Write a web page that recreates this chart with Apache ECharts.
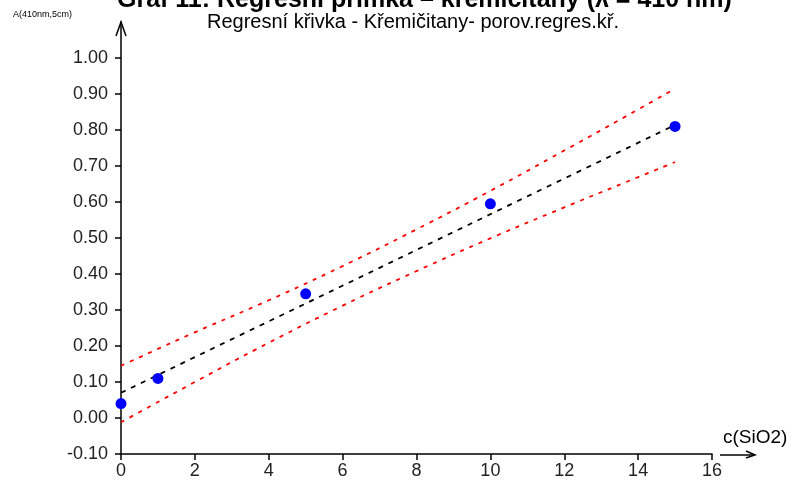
<!DOCTYPE html>
<html>
<head>
<meta charset="UTF-8">
<title>Graf 11</title>
<script src="https://cdn.jsdelivr.net/npm/echarts@6/dist/echarts.min.js"></script>
<style>
  html, body { margin: 0; padding: 0; background: #fff; }
  #chart { width: 795px; height: 486px; }
</style>
</head>
<body>
<div id="chart"></div>
<script>
// measured points
var measX = [0, 1, 5, 10, 15];
var measY = [0.04, 0.11, 0.345, 0.595, 0.81];
// regression line (end points)
var fitX = [0, 15];
var fitY = [0.07, 0.814];
// confidence band, read at these x values
var bandX = [0, 2, 4, 6, 8, 10, 12, 14, 15];
var bandUpper = [0.145, 0.238, 0.327, 0.422, 0.524, 0.631, 0.743, 0.857, 0.915];
var bandLower = [-0.012, 0.100, 0.209, 0.312, 0.408, 0.499, 0.585, 0.669, 0.711];
// axis ticks
var yTicks = [-0.1, 0, 0.1, 0.2, 0.3, 0.4, 0.5, 0.6, 0.7, 0.8, 0.9, 1.0];
var xTicks = [0, 2, 4, 6, 8, 10, 12, 14, 16];

function zip(xs, ys) {
  var out = [];
  for (var i = 0; i < xs.length; i++) out.push([xs[i], ys[i]]);
  return out;
}

var font = 'Liberation Sans, Arial, sans-serif';
var chart = echarts.init(document.getElementById('chart'));

var option = {
  animation: false,
  backgroundColor: '#fff',
  title: [{
    text: 'Graf 11: Regresní přímka – křemičitany (λ = 410 nm)',
    left: 117, top: -12, padding: 0,
    textStyle: { fontFamily: font, fontSize: 25, fontWeight: 'bold', color: '#000' }
  }, {
    text: 'Regresní křivka - Křemičitany- porov.regres.kř.',
    left: 207, top: 12, padding: 0,
    textStyle: { fontFamily: font, fontSize: 20, fontWeight: 'normal', color: '#000' }
  }, {
    text: 'A(410nm,5cm)',
    left: 13, top: 10, padding: 0,
    textStyle: { fontFamily: font, fontSize: 9, fontWeight: 'normal', color: '#000' }
  }, {
    text: 'c(SiO2)',
    left: 723, top: 428, padding: 0,
    textStyle: { fontFamily: font, fontSize: 19, fontWeight: 'normal', color: '#000' }
  }],
  grid: { left: 121, right: 83, top: 22, bottom: 32 },
  xAxis: {
    type: 'value', min: 0, max: 16, interval: 2,
    axisLine: { onZero: false, lineStyle: { color: '#000', width: 1.5 } },
    axisTick: { length: 6, lineStyle: { color: '#000', width: 1.5 }, customValues: xTicks },
    axisLabel: { customValues: xTicks, margin: 8, fontFamily: font, fontSize: 18, color: '#222' },
    splitLine: { show: false }
  },
  yAxis: {
    type: 'value', min: -0.1, max: 1.1, interval: 0.1,
    axisLine: { show: true, onZero: false, lineStyle: { color: '#000', width: 1.5 } },
    axisTick: { show: true, length: 6, lineStyle: { color: '#000', width: 1.5 }, customValues: yTicks },
    axisLabel: {
      customValues: yTicks, margin: 13, fontFamily: font, fontSize: 18, color: '#222',
      formatter: function (v) { return v.toFixed(2); }
    },
    splitLine: { show: false }
  },
  series: [{
    type: 'line', data: zip(bandX, bandUpper), symbol: 'none', smooth: true,
    lineStyle: { color: '#ff0000', width: 1.8, type: [4, 6] }, z: 2
  }, {
    type: 'line', data: zip(bandX, bandLower), symbol: 'none', smooth: true,
    lineStyle: { color: '#ff0000', width: 1.8, type: [4, 6] }, z: 2
  }, {
    type: 'line', data: zip(fitX, fitY), symbol: 'none',
    lineStyle: { color: '#000', width: 1.8, type: [5, 6] }, z: 3
  }, {
    type: 'scatter', data: zip(measX, measY), symbol: 'circle', symbolSize: 11,
    itemStyle: { color: '#0000ff', opacity: 1 }, z: 4
  }]
};
chart.setOption(option);

// arrow heads on the axes
var axisTopPx = chart.convertToPixel({ yAxisIndex: 0 }, 1.1);
var axisLeftPx = chart.convertToPixel({ xAxisIndex: 0 }, 0);
var axisBasePx = chart.convertToPixel({ yAxisIndex: 0 }, -0.1);
var axisEndPx = chart.convertToPixel({ xAxisIndex: 0 }, 16);
chart.setOption({
  graphic: [{
    type: 'polyline',
    shape: { points: [[axisLeftPx - 5, axisTopPx + 14], [axisLeftPx, axisTopPx], [axisLeftPx + 5, axisTopPx + 14]] },
    style: { stroke: '#000', lineWidth: 1.5, fill: null }
  }, {
    type: 'line',
    shape: { x1: axisEndPx + 8, y1: axisBasePx + 1, x2: axisEndPx + 43, y2: axisBasePx + 1 },
    style: { stroke: '#000', lineWidth: 1.5 }
  }, {
    type: 'polyline',
    shape: { points: [[axisEndPx + 34, axisBasePx - 3], [axisEndPx + 43, axisBasePx + 1], [axisEndPx + 34, axisBasePx + 4]] },
    style: { stroke: '#000', lineWidth: 1.5, fill: null }
  }]
});
</script>
</body>
</html>
